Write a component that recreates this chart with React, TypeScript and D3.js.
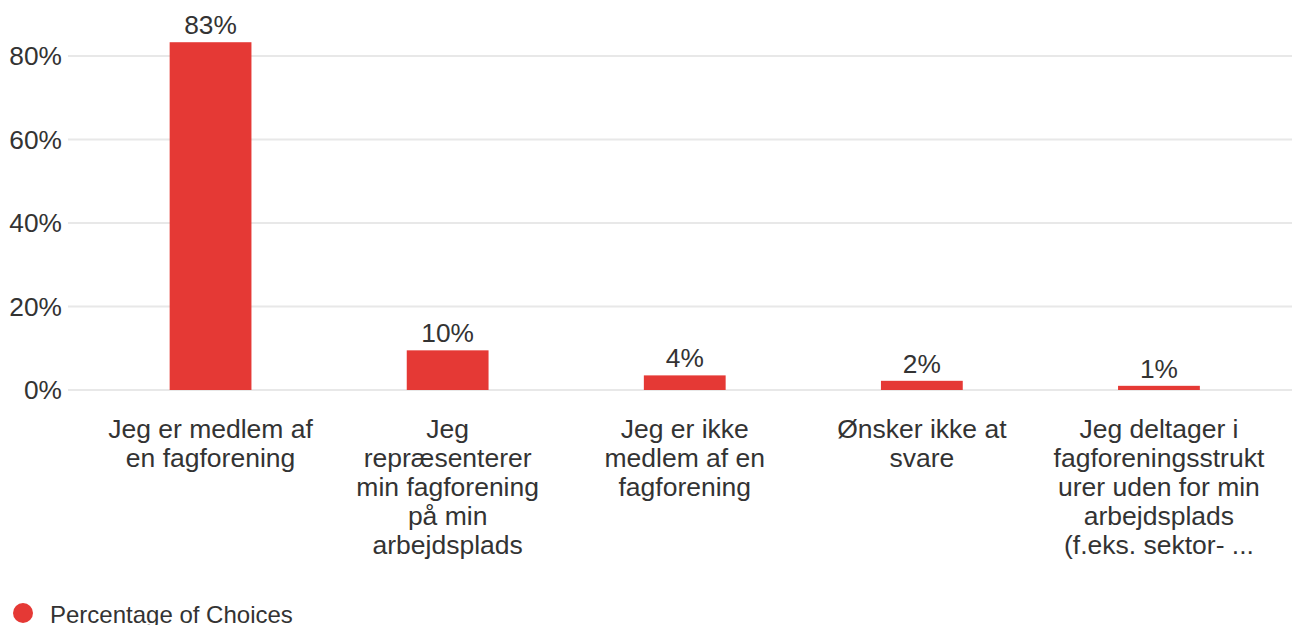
import React from "react";
import * as d3 from "d3";

const categories: string[][] = [
  ["Jeg er medlem af", "en fagforening"],
  ["Jeg", "repræsenterer", "min fagforening", "på min", "arbejdsplads"],
  ["Jeg er ikke", "medlem af en", "fagforening"],
  ["Ønsker ikke at", "svare"],
  ["Jeg deltager i", "fagforeningsstrukt", "urer uden for min", "arbejdsplads", "(f.eks. sektor- ..."],
];
const values: number[] = [83.3, 9.5, 3.5, 2.2, 1.0];
const yTicks: number[] = [0, 20, 40, 60, 80];
const seriesName = "Percentage of Choices";

const W = 1292;
const H = 625;
const BAR = "#e53935";
const TEXT = "#333333";
const FONT = "'Liberation Sans', Arial, sans-serif";

export default function App() {
  const keys = categories.map((_, i) => String(i));
  const x = d3.scaleBand<string>().domain(keys).range([92, 1277.5]).paddingInner(0.655).paddingOuter(0.3275);
  const y = d3.scaleLinear().domain([0, 80]).range([390, 56]);

  return (
    <svg
      width={W}
      height={H}
      style={{ position: "absolute", left: 0, top: 0, background: "#fff" }}
      fontFamily={FONT}
    >
      {yTicks.map((t) => (
        <g key={t}>
          <line x1={68} x2={W} y1={y(t)} y2={y(t)} stroke="#e8e8e8" strokeWidth={1.8} />
          <text x={62} y={y(t)} dy="0.35em" textAnchor="end" fontSize={26.3} fill={TEXT}>
            {t}%
          </text>
        </g>
      ))}
      {values.map((v, i) => {
        const bx = x(String(i))!;
        const bw = x.bandwidth();
        return (
          <g key={i}>
            <rect x={bx} y={y(v)} width={bw} height={y(0) - y(v)} fill={BAR} />
            <text x={bx + bw / 2} y={y(v) - 8} textAnchor="middle" fontSize={26.3} fill={TEXT}>
              {Math.round(v)}%
            </text>
            {categories[i].map((line, j) => (
              <text
                key={j}
                x={bx + bw / 2}
                y={438 + j * 29}
                textAnchor="middle"
                fontSize={26.5}
                fill={TEXT}
              >
                {line}
              </text>
            ))}
          </g>
        );
      })}
      <circle cx={23} cy={613} r={10} fill={BAR} />
      <text x={50} y={623} fontSize={24} fill={TEXT}>
        {seriesName}
      </text>
    </svg>
  );
}
